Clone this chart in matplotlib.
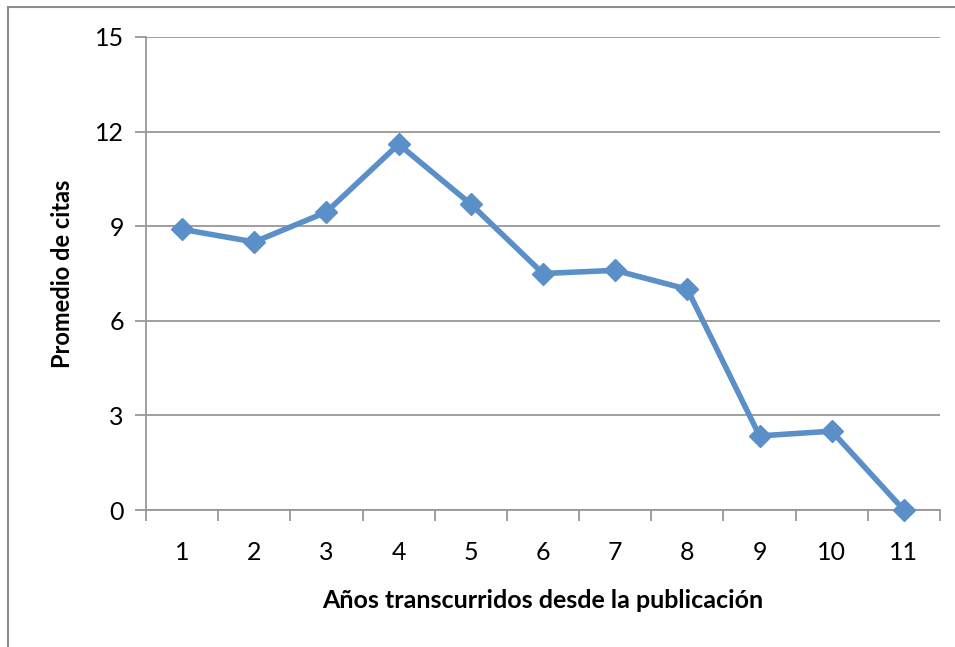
import matplotlib.pyplot as plt
import matplotlib.patches as patches

plt.rcParams['font.family'] = ['Lato', 'DejaVu Sans']

# data
years = [1, 2, 3, 4, 5, 6, 7, 8, 9, 10, 11]
avg_citations = [8.9, 8.5, 9.45, 11.6, 9.7, 7.5, 7.6, 7.0, 2.35, 2.5, 0.0]
y_ticks = [0, 3, 6, 9, 12, 15]

fig = plt.figure(figsize=(9.55, 6.47), dpi=100)
fig.patch.set_facecolor('white')

# outer chart frame (right/bottom fall off the image)
fig.patches.append(patches.Rectangle((8 / 955, -0.05), 1.1, 1 - 7 / 647 + 0.05,
                                     transform=fig.transFigure, fill=False,
                                     edgecolor='#8c8c8c', linewidth=1.5))

ax = fig.add_axes([146 / 955, 1 - 510 / 647, (940 - 146) / 955, (510 - 37) / 647])

ax.plot(years, avg_citations, color='#5a8fc8', linewidth=4,
        marker='D', markersize=11, markeredgecolor='#5a8fc8', zorder=3,
        clip_on=False)

ax.set_xlim(0.5, 11.5)
ax.set_ylim(0, 15)
ax.set_yticks(y_ticks)
ax.set_xticks(years)
ax.set_xticks([x + 0.5 for x in range(0, 12)], minor=True)

ax.grid(axis='y', color='#979797', linewidth=1.3)
ax.set_axisbelow(True)

for s in ['top', 'right']:
    ax.spines[s].set_visible(False)
ax.spines['left'].set_color('#979797')
ax.spines['bottom'].set_color('#979797')
ax.spines['left'].set_linewidth(1.3)
ax.spines['bottom'].set_linewidth(1.3)

ax.tick_params(axis='y', length=8, width=1.3, color='#979797', labelsize=18, pad=8)
ax.tick_params(axis='x', which='major', length=0, labelsize=18, pad=22)
ax.tick_params(axis='x', which='minor', length=8, width=1.3, color='#979797')

ax.set_xlabel('Años transcurridos desde la publicación', fontsize=18,
              fontweight='bold', labelpad=18)
ax.set_ylabel('Promedio de citas', fontsize=17, fontweight='bold', labelpad=15)

fig.savefig('out.png', dpi=100, facecolor='white')
